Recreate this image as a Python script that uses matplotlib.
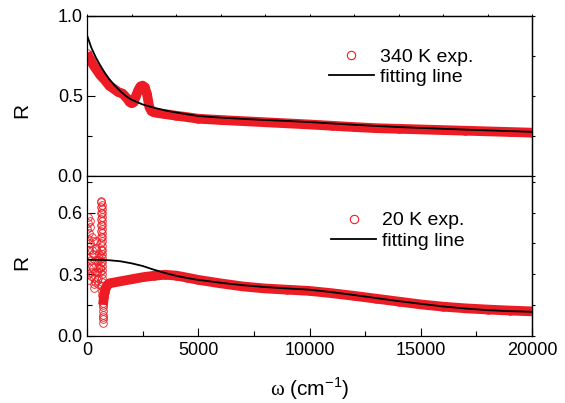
import matplotlib
matplotlib.use("Agg")
import matplotlib.pyplot as plt
from matplotlib.ticker import MultipleLocator, FormatStrFormatter
from matplotlib.lines import Line2D

plt.rcParams['font.family'] = ['Liberation Sans', 'DejaVu Sans']
plt.rcParams['mathtext.fontset'] = 'custom'
plt.rcParams['mathtext.rm'] = 'Liberation Serif'
plt.rcParams['mathtext.sf'] = 'Liberation Sans'

RED = '#ED1C24'

# ---- 340 K reflectivity (measured) ----
w_340 = [0, 100, 200, 300, 400, 500, 600, 800, 1000, 1200, 1400, 1600, 1800,
         1900, 2000, 2100, 2200, 2300, 2400, 2500, 2600, 2700, 2800, 2900,
         3000, 3250, 3500, 4000, 4500, 5000, 6000, 7000, 8000, 9000, 10000,
         11000, 12000, 13000, 14000, 15000, 16000, 17000, 18000, 19000, 20000]
r_340 = [0.77, 0.74, 0.715, 0.69, 0.67, 0.65, 0.63, 0.60, 0.565, 0.545, 0.525,
         0.515, 0.485, 0.465, 0.455, 0.465, 0.50, 0.535, 0.56, 0.565, 0.555,
         0.51, 0.43, 0.405, 0.398, 0.392, 0.387, 0.377, 0.368, 0.358, 0.350,
         0.343, 0.336, 0.329, 0.322, 0.314, 0.306, 0.299, 0.295, 0.291, 0.287,
         0.283, 0.279, 0.275, 0.271]

# ---- 340 K fit ----
w_340_fit = [0, 200, 400, 600, 800, 1000, 1250, 1500, 1750, 2000, 2500, 3000,
             3500, 4000, 5000, 6000, 7000, 8000, 9000, 10000, 12000, 14000,
             16000, 18000, 20000]
r_340_fit = [0.88, 0.80, 0.74, 0.69, 0.645, 0.605, 0.565, 0.53, 0.50, 0.477,
             0.447, 0.427, 0.41, 0.397, 0.375, 0.365, 0.357, 0.35, 0.344,
             0.337, 0.32, 0.306, 0.295, 0.285, 0.276]

# ---- 20 K reflectivity: far-infrared phonon region (individual points) ----
w_20_far = [5, 15, 25, 35, 45, 55, 65, 75, 85, 95, 110, 125, 140, 155, 170,
            185, 200, 215, 230, 245, 260, 275, 290, 305, 320, 335, 350, 365,
            380, 395, 410, 425, 440, 455, 470, 485, 500, 515, 530, 545, 560,
            575, 590, 605, 615, 618, 621, 624, 627, 630, 633, 636, 639, 642,
            645, 650, 652, 654, 656, 658, 660, 662, 664, 666, 668, 670, 672,
            674, 676, 678, 680, 682, 684, 686, 688, 690, 692, 694, 696, 698,
            700, 702, 704, 706, 708, 710, 715]
r_20_far = [0.42, 0.52, 0.58, 0.55, 0.47, 0.38, 0.30, 0.27, 0.33, 0.42, 0.50,
            0.56, 0.53, 0.45, 0.37, 0.31, 0.29, 0.34, 0.42, 0.48, 0.46, 0.40,
            0.33, 0.28, 0.25, 0.23, 0.26, 0.31, 0.37, 0.42, 0.46, 0.43, 0.37,
            0.31, 0.27, 0.25, 0.28, 0.33, 0.38, 0.40, 0.37, 0.33, 0.31, 0.33,
            0.36, 0.39, 0.42, 0.45, 0.48, 0.51, 0.54, 0.57, 0.60, 0.63, 0.655,
            0.66, 0.64, 0.62, 0.60, 0.58, 0.56, 0.54, 0.52, 0.50, 0.48, 0.46,
            0.44, 0.42, 0.40, 0.38, 0.36, 0.34, 0.32, 0.30, 0.28, 0.26, 0.24,
            0.22, 0.20, 0.18, 0.16, 0.14, 0.12, 0.10, 0.08, 0.06, 0.09]

# ---- 20 K reflectivity: mid/near-infrared ----
w_20 = [720, 760, 800, 860, 950, 1000, 1500, 2000, 2500, 3000, 3500, 4000,
        4500, 5000, 6000, 7000, 8000, 9000, 10000, 11000, 12000, 13000, 14000,
        15000, 16000, 17000, 18000, 19000, 20000]
r_20 = [0.15, 0.19, 0.215, 0.235, 0.25, 0.255, 0.265, 0.275, 0.285, 0.292,
        0.297, 0.293, 0.283, 0.272, 0.255, 0.24, 0.23, 0.224, 0.218, 0.207,
        0.194, 0.18, 0.166, 0.152, 0.141, 0.133, 0.127, 0.122, 0.118]

# ---- 20 K fit ----
w_20_fit = [0, 500, 1000, 1500, 2000, 2500, 3000, 3500, 4000, 4500, 5000,
            6000, 7000, 8000, 9000, 10000, 11000, 12000, 13000, 14000, 15000,
            16000, 17000, 18000, 19000, 20000]
r_20_fit = [0.37, 0.37, 0.368, 0.363, 0.353, 0.34, 0.322, 0.306, 0.292, 0.281,
            0.272, 0.258, 0.246, 0.237, 0.23, 0.224, 0.212, 0.198, 0.183,
            0.168, 0.155, 0.142, 0.132, 0.124, 0.119, 0.116]

x_ticks = [0, 5000, 10000, 15000, 20000]
x_tick_labels = ['0', '5000', '10000', '15000', '20000']

W, H = 565, 403
fig = plt.figure(figsize=(W / 100, H / 100), dpi=100)


def box(left, top, right, bottom):
    return [left / W, 1 - bottom / H, (right - left) / W, (bottom - top) / H]


ax1 = fig.add_axes(box(87, 16, 532, 176))
ax2 = fig.add_axes(box(87, 176, 532, 335.5))

MS, MEW = 5.5, 0.6
BAND = 7.0

# upper panel
ax1.plot(w_340, r_340, color=RED, lw=BAND, solid_capstyle='butt',
         solid_joinstyle='round', zorder=2)
ax1.plot(w_340, r_340, ls='none', marker='o', mfc='none', mec=RED, ms=MS,
         mew=MEW, zorder=2)
ax1.plot(w_340_fit, r_340_fit, color='black', lw=1.3, zorder=3)

# lower panel
ax2.plot(w_20, r_20, color=RED, lw=BAND, solid_capstyle='butt',
         solid_joinstyle='round', zorder=2)
ax2.plot(w_20, r_20, ls='none', marker='o', mfc='none', mec=RED, ms=MS,
         mew=MEW, zorder=2)
ax2.plot(w_20_far, r_20_far, ls='none', marker='o', mfc='none', mec=RED,
         ms=MS, mew=MEW, zorder=2)
ax2.plot(w_20_fit, r_20_fit, color='black', lw=1.3, zorder=3)

ax1.set_xlim(0, 20000)
ax2.set_xlim(0, 20000)
ax1.set_ylim(0, 1.0)
ax2.set_ylim(0, 0.78)

ax1.yaxis.set_major_locator(MultipleLocator(0.5))
ax1.yaxis.set_minor_locator(MultipleLocator(0.25))
ax2.yaxis.set_major_locator(MultipleLocator(0.3))
ax2.yaxis.set_minor_locator(MultipleLocator(0.15))
for ax in (ax1, ax2):
    ax.yaxis.set_major_formatter(FormatStrFormatter('%.1f'))
    ax.set_xticks(x_ticks)
    ax.xaxis.set_minor_locator(MultipleLocator(2500))
    ax.tick_params(which='both', direction='in', top=False, right=False,
                   width=0.8, labelsize=13)
    ax.tick_params(which='major', length=6)
    ax.tick_params(which='minor', length=3.5)
    ax.tick_params(axis='y', pad=3)
    for s in ax.spines.values():
        s.set_linewidth(0.9)

ax1.tick_params(axis='x', which='both', bottom=False, labelbottom=False)
ax2.set_xticklabels(x_tick_labels)
ax2.tick_params(axis='x', pad=5)

# short outward marks on the right and top frames
for ax, majors, minors in ((ax1, [0, 0.5, 1.0], [0.25, 0.75]),
                           (ax2, [0, 0.3, 0.6], [0.15, 0.45, 0.75])):
    sec = ax.secondary_yaxis('right')
    sec.set_yticks(majors)
    sec.set_yticks(minors, minor=True)
    sec.tick_params(which='both', direction='out', length=2.5, width=0.8,
                    labelright=False)
    sec.spines['right'].set_linewidth(0.9)
secx = ax1.secondary_xaxis('top')
secx.set_xticks(list(range(0, 20001, 2000)))
secx.tick_params(direction='out', length=1.5, width=0.7, labeltop=False)
secx.spines['top'].set_linewidth(0.9)

# legends
def legend_handles():
    return [Line2D([], [], ls='none', marker='o', mfc='none', mec=RED,
                   ms=6, mew=0.8),
            Line2D([], [], color='black', lw=1.3)]


leg_kw = dict(frameon=False, fontsize=14, handlelength=2.3,
              handletextpad=0.3, labelspacing=0.15, borderpad=0,
              borderaxespad=0, loc='upper left')
ax1.legend(legend_handles(), ['340 K exp.', 'fitting line'],
           bbox_to_anchor=(0.544, 0.80), **leg_kw)
ax2.legend(legend_handles(), ['20 K exp.', 'fitting line'],
           bbox_to_anchor=(0.549, 0.775), **leg_kw)

fig.text(21.7 / W, 1 - 110 / H, 'R', rotation=90, fontsize=15,
         ha='center', va='center')
fig.text(21.7 / W, 1 - 262 / H, 'R', rotation=90, fontsize=15,
         ha='center', va='center')
fig.text(310 / W, 1 - 389 / H, r'$\mathrm{\omega}$ (cm$^{\mathsf{-1}}$)',
         fontsize=15, ha='center', va='center')

fig.savefig('out.png', dpi=100)
